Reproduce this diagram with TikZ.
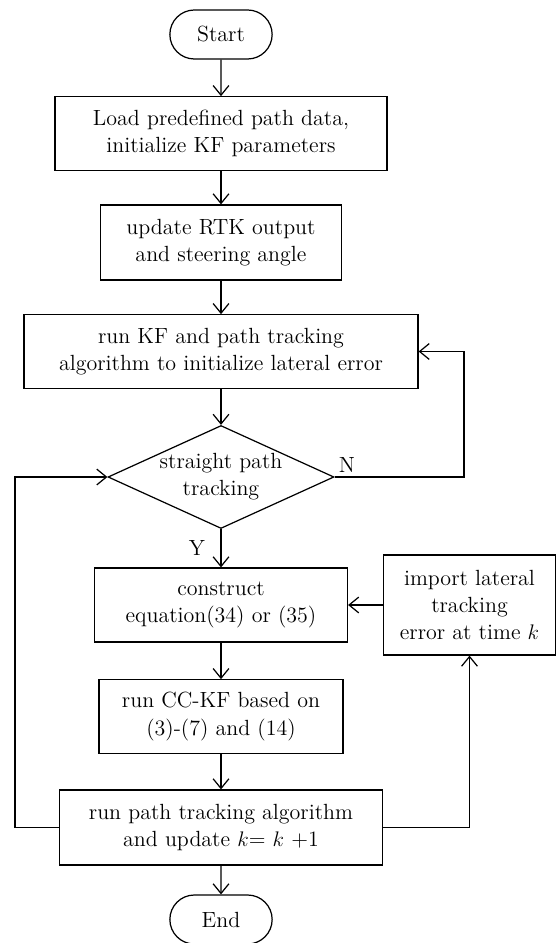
\documentclass[tikz,border=0pt]{standalone}
\usepackage{amsmath,amssymb,tikz}
\usetikzlibrary{shapes.geometric,shapes.misc,arrows.meta}

\begin{document}
\begin{tikzpicture}[
    font=\fontsize{12.5}{15.4}\selectfont,
    line width=0.7pt,
    >={Straight Barb[length=5.5pt,width=9pt]},
    terminal/.style={draw,rounded rectangle,minimum width=2.28cm,minimum height=0.98cm},
    procbox/.style={draw,rectangle,align=center,minimum height=1.47cm},
    decision/.style={draw,diamond,aspect=2.2,inner sep=0pt,align=center,minimum width=4.52cm,minimum height=2.06cm}
  ]
  \useasboundingbox (0,0) rectangle (11.12,-18.86);

  % main column
  \node[terminal] (start) at (4.42,-0.69) {Start};
  \node[procbox,minimum width=6.64cm] (load) at (4.42,-2.67) {Load predefined path data,\\initialize KF parameters};
  \node[procbox,minimum width=4.82cm,minimum height=1.5cm] (rtk) at (4.42,-4.85) {update RTK output\\and steering angle};
  \node[procbox,minimum width=7.88cm] (initkf) at (4.42,-7.03) {run KF and path tracking\\algorithm to initialize lateral error};
  \node[decision] (straight) at (4.42,-9.54) {straight path\\tracking};
  \node[procbox,minimum width=5.06cm,minimum height=1.48cm] (construct) at (4.42,-12.10) {construct\\equation(34) or (35)};
  \node[procbox,minimum width=4.88cm] (cckf) at (4.42,-14.33) {run CC-KF based on\\(3)-(7) and (14)};
  \node[procbox,minimum width=6.46cm,minimum height=1.5cm] (update) at (4.42,-16.55) {run path tracking algorithm\\and update $k$= $k$ +1};
  \node[terminal] (stop) at (4.42,-18.39) {End};

  % side box
  \node[procbox,minimum width=3.44cm,minimum height=2cm,inner sep=2pt] (import) at (9.39,-12.10) {import lateral\\tracking\\error at time $k$};

  % labels of the decision
  \node (no) at (6.94,-9.30) {N};
  \node (yes) at (3.94,-10.96) {Y};

  % turning points of the loops
  \coordinate (nloop) at (9.28,-9.54);
  \coordinate (back) at (0.30,-16.55);

  \draw[->] (start) -- (load);
  \draw[->] (load) -- (rtk);
  \draw[->] (rtk) -- (initkf);
  \draw[->] (initkf) -- (straight);
  \draw[->] (straight) -- (construct);
  \draw[->] (construct) -- (cckf);
  \draw[->] (cckf) -- (update);
  \draw[->] (update) -- (stop);
  \draw[->] (straight.east) -- (nloop) |- (initkf.east);
  \draw[->] (import) -- (construct);
  \draw[->] (update.east) -| (import.south);
  \draw[->] (update.west) -- (back) |- (straight.west);
\end{tikzpicture}
\end{document}
